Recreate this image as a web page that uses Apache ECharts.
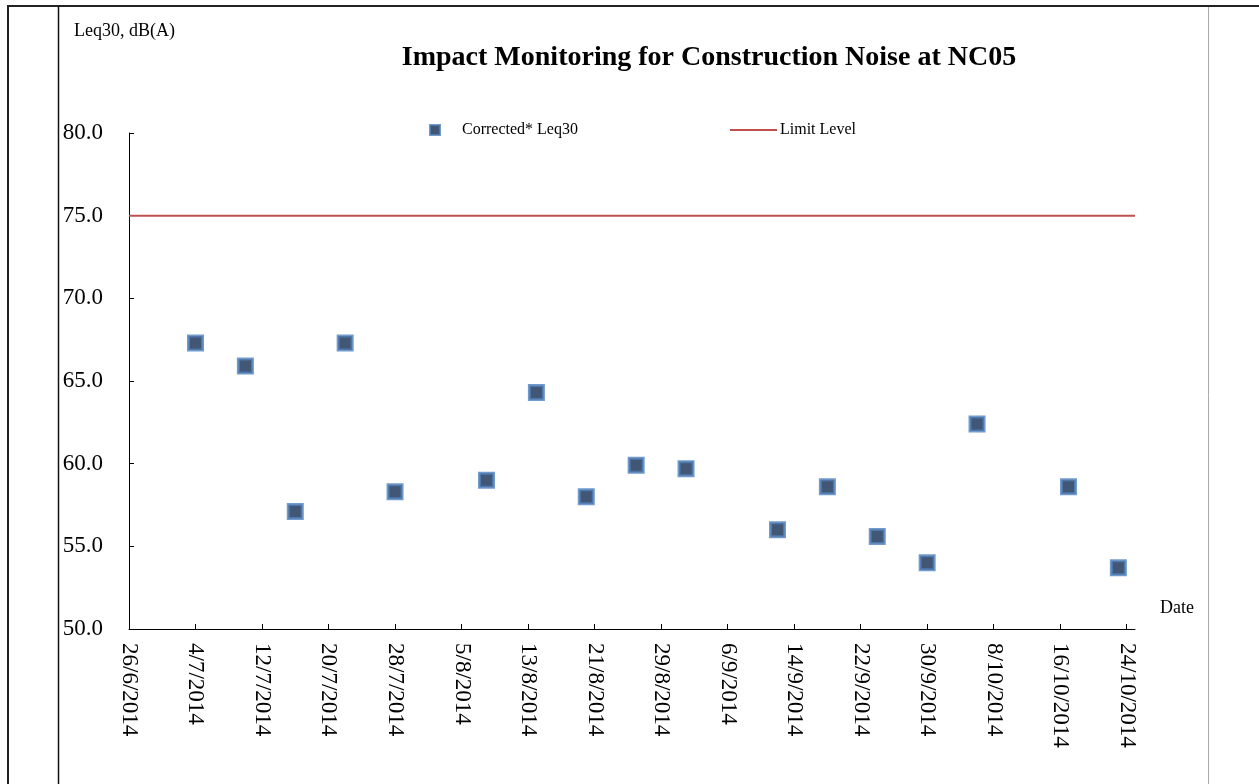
<!DOCTYPE html>
<html>
<head>
<meta charset="utf-8">
<script src="https://cdn.jsdelivr.net/npm/echarts@6/dist/echarts.min.js"></script>
<style>html,body{margin:0;padding:0;background:#fff;}#c{width:1259px;height:784px;}</style>
</head>
<body>
<div id="c"></div>
<script>
// ---- data ----
var startDate = '2014-06-26';
var endDate = '2014-10-25';
var sampleDates = ['2014-07-04','2014-07-10','2014-07-16','2014-07-22','2014-07-28','2014-08-08','2014-08-14','2014-08-20','2014-08-26','2014-09-01','2014-09-12','2014-09-18','2014-09-24','2014-09-30','2014-10-06','2014-10-17','2014-10-23'];
var leqValues = [67.3, 65.9, 57.1, 67.3, 58.3, 59.0, 64.3, 58.0, 59.9, 59.7, 56.0, 58.6, 55.6, 54.0, 62.4, 58.6, 53.7];
var limitLevel = [75, 75];
var tickDates = ['2014-06-26','2014-07-04','2014-07-12','2014-07-20','2014-07-28','2014-08-05','2014-08-13','2014-08-21','2014-08-29','2014-09-06','2014-09-14','2014-09-22','2014-09-30','2014-10-08','2014-10-16','2014-10-24'];
var yTicks = [50, 55, 60, 65, 70, 75, 80];

// ---- helpers ----
function ms(s){var p=s.split('-');return Date.UTC(+p[0],+p[1]-1,+p[2]);}
var DAY = 86400000;
var t0 = ms(startDate);
function dayOff(s){return Math.round((ms(s)-t0)/DAY);}
function fmt(d){var dt=new Date(t0+d*DAY);return dt.getUTCDate()+'/'+(dt.getUTCMonth()+1)+'/'+dt.getUTCFullYear();}
var xMax = dayOff(endDate);
var tickVals = tickDates.map(dayOff);
var scatterData = sampleDates.map(function(d,i){return [dayOff(d), leqValues[i]];});
var limitData = [[0, limitLevel[0]], [xMax, limitLevel[1]]];

var serif = '"Liberation Serif","Times New Roman",serif';
var chart = echarts.init(document.getElementById('c'));
chart.setOption({
  animation: false,
  backgroundColor: '#fff',
  title: {
    text: 'Impact Monitoring for Construction Noise at NC05',
    left: 704, top: 39, textAlign: 'center',
    textStyle: {fontFamily: serif, fontSize: 28, fontWeight: 'bold', color: '#000'}
  },
  legend: [{
    data: ['Corrected* Leq30'],
    left: 424, top: 117, itemWidth: 10, itemHeight: 10,
    textStyle: {fontFamily: serif, fontSize: 16, color: '#000', padding: [0,0,0,17]}
  }, {
    data: [{name: 'Limit Level', icon: 'rect'}],
    left: 725, top: 117, itemWidth: 47, itemHeight: 2,
    textStyle: {fontFamily: serif, fontSize: 16, color: '#000', padding: [0,0,0,-2]}
  }],
  grid: {left: 129, right: 124, top: 133, bottom: 155, containLabel: false},
  xAxis: {
    type: 'value', min: 0, max: xMax,
    splitLine: {show: false},
    axisLine: {lineStyle: {color: '#000', width: 1}},
    axisTick: {inside: true, length: 5, customValues: tickVals, lineStyle: {color: '#000'}},
    axisLabel: {customValues: tickVals, rotate: -90, margin: 14, fontFamily: serif, fontSize: 23, color: '#000',
      formatter: function(v){return fmt(v);}}
  },
  yAxis: {
    type: 'value', min: 50, max: 80, interval: 5,
    splitLine: {show: false},
    axisLine: {show: true, lineStyle: {color: '#000', width: 1}},
    axisTick: {show: true, inside: true, length: 5, lineStyle: {color: '#000'}},
    axisLabel: {margin: 26, fontFamily: serif, fontSize: 23, color: '#000', formatter: function(v){return v.toFixed(1);}}
  },
  series: [{
    name: 'Corrected* Leq30', type: 'scatter', data: scatterData,
    symbol: 'rect', symbolSize: 14,
    itemStyle: {color: '#132d52', borderColor: '#4f81bd', borderWidth: 3}
  }, {
    name: 'Limit Level', type: 'line', data: limitData,
    symbol: 'none', lineStyle: {color: '#c0504d', width: 2}, itemStyle: {color: '#c0504d'}
  }],
  graphic: [
    {type: 'text', left: 74, top: 22, style: {text: 'Leq30, dB(A)', font: '18px ' + serif, fill: '#000'}},
    {type: 'text', left: 1160, top: 599, style: {text: 'Date', font: '18px ' + serif, fill: '#000'}},
    {type: 'line', shape: {x1: 7, y1: 6, x2: 1259, y2: 6}, style: {stroke: '#222', lineWidth: 2}},
    {type: 'line', shape: {x1: 8, y1: 5, x2: 8, y2: 784}, style: {stroke: '#222', lineWidth: 2}},
    {type: 'line', shape: {x1: 58.5, y1: 6, x2: 58.5, y2: 784}, style: {stroke: '#111', lineWidth: 1.5}},
    {type: 'line', shape: {x1: 1208.5, y1: 7, x2: 1208.5, y2: 784}, style: {stroke: '#aaa', lineWidth: 1}}
  ]
});
</script>
</body>
</html>
